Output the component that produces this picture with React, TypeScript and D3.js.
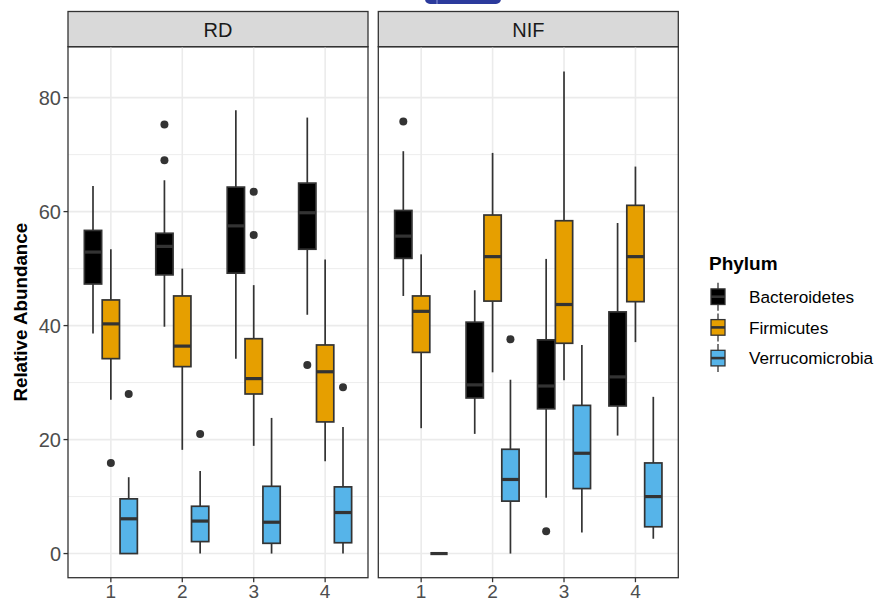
import React from "react";
import * as d3 from "d3";

// facets, x categories and fill groups
const panels = ["RD", "NIF"];
const groups = ["1", "2", "3", "4"];
const phyla = ["Bacteroidetes", "Firmicutes", "Verrucomicrobia"];
const phylumColors = ["#000000", "#E69F00", "#56B4E9"];

// box stats per group: [lower whisker, q1, median, q3, upper whisker]
const rdBacteroidetes = [
  [38.6, 47.3, 52.9, 56.7, 64.5],
  [39.8, 48.9, 53.9, 56.2, 65.5],
  [34.2, 49.2, 57.5, 64.3, 77.8],
  [41.9, 53.4, 59.8, 65.0, 76.5],
];
const rdFirmicutes = [
  [27.0, 34.2, 40.3, 44.5, 53.4],
  [18.2, 32.8, 36.4, 45.2, 50.0],
  [18.9, 28.0, 30.7, 37.7, 47.1],
  [16.2, 23.1, 31.9, 36.6, 51.6],
];
const rdVerrucomicrobia = [
  [0, 0, 6.1, 9.6, 13.4],
  [0, 2.1, 5.7, 8.3, 14.5],
  [0, 1.8, 5.5, 11.8, 23.8],
  [0, 1.9, 7.2, 11.7, 22.2],
];
const nifBacteroidetes = [
  [45.2, 51.8, 55.7, 60.2, 70.6],
  [21.0, 27.3, 29.6, 40.6, 46.2],
  [9.8, 25.4, 29.4, 37.5, 51.7],
  [20.7, 25.9, 31.0, 42.4, 58.0],
];
const nifFirmicutes = [
  [22.0, 35.3, 42.5, 45.2, 52.5],
  [31.8, 44.3, 52.1, 59.4, 70.3],
  [30.4, 36.9, 43.7, 58.4, 84.6],
  [37.1, 44.2, 52.1, 61.1, 67.9],
];
const nifVerrucomicrobia = [
  [0, 0, 0, 0, 0],
  [0, 9.2, 13.0, 18.3, 30.5],
  [3.7, 11.4, 17.6, 26.0, 36.6],
  [2.6, 4.7, 10.0, 15.9, 27.5],
];

// outliers: [group index, phylum index, value]
const rdOutliers = [
  [0, 1, 15.9],
  [0, 2, 28.0],
  [1, 0, 75.3],
  [1, 0, 69.0],
  [1, 2, 21.0],
  [2, 1, 63.5],
  [2, 1, 55.9],
  [3, 0, 33.1],
  [3, 2, 29.2],
];
const nifOutliers = [
  [0, 0, 75.8],
  [1, 2, 37.6],
  [2, 0, 3.9],
];

const panelStats = [
  [rdBacteroidetes, rdFirmicutes, rdVerrucomicrobia],
  [nifBacteroidetes, nifFirmicutes, nifVerrucomicrobia],
];
const panelOutliers = [rdOutliers, nifOutliers];

const font = "'Liberation Sans', Arial, sans-serif";

const App = () => {
  const width = 878;
  const height = 602;
  const panelLefts = [68, 378.3];
  const panelW = 300;
  const stripTop = 11.5;
  const panelTop = 46.7;
  const panelBottom = 577.7;

  // ggplot-like 5% expansion around [0, max]
  const y = d3.scaleLinear().domain([-4.235, 88.935]).range([panelBottom, panelTop]);
  const majors = y.ticks(5);
  const minors = [10, 30, 50, 70];

  const boxW = 0.242;
  const dodge = [-0.25, 0, 0.25];
  const outline = "#333333";
  const lw = 1.7;

  return (
    <svg
      width={width}
      height={height}
      style={{ position: "absolute", left: 0, top: 0, background: "#fff" }}
      fontFamily={font}
    >
      <rect x={425} y={-6} width={76} height={10} rx={5} fill="#2B3A9C" />
      <line x1={437} x2={437} y1={0} y2={4} stroke="#8E98D8" strokeWidth={1} />

      {panels.map((name, p) => {
        const left = panelLefts[p];
        const x = d3.scaleLinear().domain([0.4, 4.6]).range([left, left + panelW]);
        const stats = panelStats[p];
        return (
          <g key={name}>
            {/* strip */}
            <rect
              x={left}
              y={stripTop}
              width={panelW}
              height={panelTop - stripTop}
              fill="#D9D9D9"
              stroke={outline}
              strokeWidth={1.3}
            />
            <text
              x={left + panelW / 2}
              y={36.5}
              textAnchor="middle"
              fontSize={20}
              fill="#1A1A1A"
            >
              {name}
            </text>

            {/* grid */}
            {minors.map((v) => (
              <line key={"mn" + v} x1={left} x2={left + panelW} y1={y(v)} y2={y(v)} stroke="#EBEBEB" strokeWidth={0.9} />
            ))}
            {majors.map((v) => (
              <line key={"mj" + v} x1={left} x2={left + panelW} y1={y(v)} y2={y(v)} stroke="#EBEBEB" strokeWidth={1.6} />
            ))}
            {groups.map((g, i) => (
              <line key={"gx" + g} x1={x(i + 1)} x2={x(i + 1)} y1={panelTop} y2={panelBottom} stroke="#EBEBEB" strokeWidth={1.6} />
            ))}

            {/* boxes */}
            {stats.map((series, k) =>
              series.map((s, i) => {
                const cx = x(i + 1 + dodge[k]);
                const x0 = x(i + 1 + dodge[k] - boxW / 2);
                const x1 = x(i + 1 + dodge[k] + boxW / 2);
                const [lo, q1, med, q3, hi] = s;
                return (
                  <g key={phyla[k] + i}>
                    <line x1={cx} x2={cx} y1={y(hi)} y2={y(q3)} stroke={outline} strokeWidth={lw} />
                    <line x1={cx} x2={cx} y1={y(q1)} y2={y(lo)} stroke={outline} strokeWidth={lw} />
                    <rect
                      x={x0}
                      y={y(q3)}
                      width={x1 - x0}
                      height={y(q1) - y(q3)}
                      fill={phylumColors[k]}
                      stroke={outline}
                      strokeWidth={lw}
                    />
                    <line x1={x0} x2={x1} y1={y(med)} y2={y(med)} stroke={outline} strokeWidth={3.2} />
                  </g>
                );
              })
            )}
            {panelOutliers[p].map(([gi, k, v], j) => (
              <circle key={"o" + j} cx={x(gi + 1 + dodge[k])} cy={y(v)} r={4} fill="#333333" />
            ))}

            {/* border */}
            <rect
              x={left}
              y={panelTop}
              width={panelW}
              height={panelBottom - panelTop}
              fill="none"
              stroke={outline}
              strokeWidth={1.3}
            />

            {/* x axis */}
            {groups.map((g, i) => (
              <g key={"xt" + g}>
                <line x1={x(i + 1)} x2={x(i + 1)} y1={panelBottom} y2={panelBottom + 4.5} stroke={outline} strokeWidth={1.3} />
                <text x={x(i + 1)} y={598} textAnchor="middle" fontSize={19} fill="#4D4D4D">
                  {g}
                </text>
              </g>
            ))}
          </g>
        );
      })}

      {/* y axis */}
      {majors.map((v) => (
        <g key={"yt" + v}>
          <line x1={63.5} x2={68} y1={y(v)} y2={y(v)} stroke={outline} strokeWidth={1.3} />
          <text x={61} y={y(v) + 7} textAnchor="end" fontSize={20} fill="#4D4D4D">
            {v}
          </text>
        </g>
      ))}
      <text
        transform={`translate(26.5, ${(panelTop + panelBottom) / 2}) rotate(-90)`}
        textAnchor="middle"
        fontSize={18.8}
        fontWeight="bold"
        fill="#000"
      >
        Relative Abundance
      </text>

      {/* legend */}
      <text x={709} y={269.5} fontSize={19} fontWeight="bold" fill="#000">
        Phylum
      </text>
      {phyla.map((ph, k) => {
        const cy = 296.7 + k * 30.7;
        return (
          <g key={ph}>
            <line x1={718} x2={718} y1={cy - 14} y2={cy + 14} stroke={outline} strokeWidth={1.3} />
            <rect x={711} y={cy - 7.8} width={14} height={15.6} fill={phylumColors[k]} stroke={outline} strokeWidth={1.3} />
            <line x1={711} x2={725} y1={cy} y2={cy} stroke={outline} strokeWidth={2.6} />
            <text x={749} y={cy + 6.2} fontSize={17.2} fill="#000">
              {ph}
            </text>
          </g>
        );
      })}
    </svg>
  );
};

export default App;
